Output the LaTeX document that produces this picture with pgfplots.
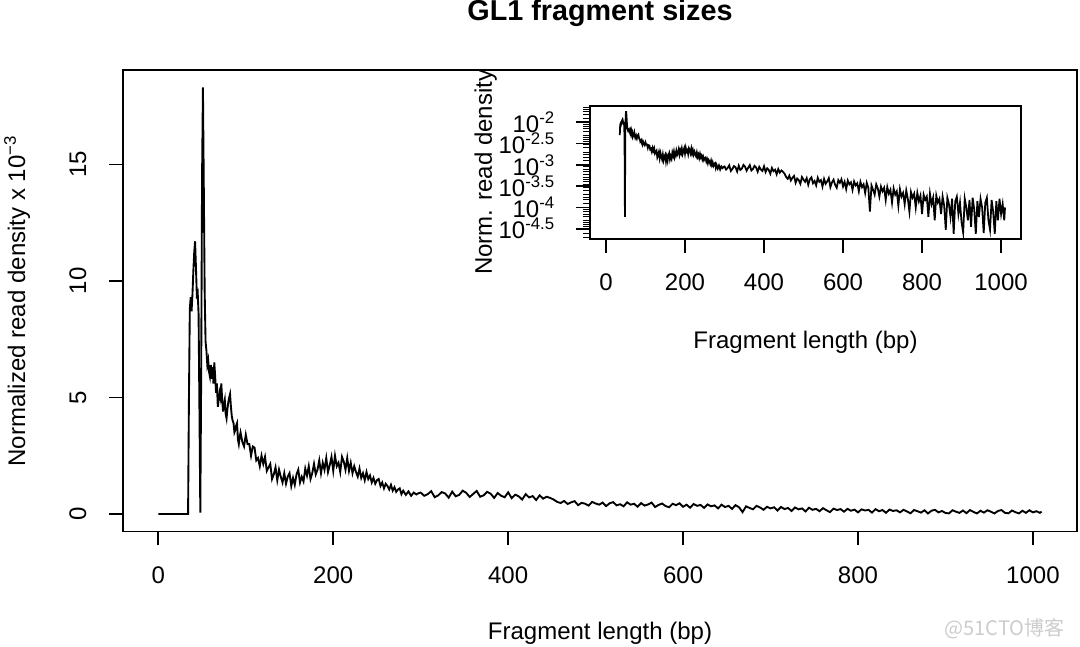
\documentclass[border=0pt]{standalone}
\usepackage{fontspec}
\setmainfont{Liberation Sans}
\newfontfamily\cjk{Noto Sans CJK SC}
\usepackage{pgfplots}
\pgfplotsset{compat=1.18}
\usepackage{pgfplotstable}
\usetikzlibrary{calc}

% fragment length (bp) vs normalized read density (x 1e-3)
\pgfplotstableread[row sep=\\]{
x y\\
0 0\\ 34 0\\ 35 5.0\\ 36 8.8\\ 37 9.3\\ 38 8.7\\ 39 9.4\\ 40 10.4\\ 41 11.2\\ 42 11.7\\
43 10.6\\ 44 9.4\\ 45 9.5\\ 46 8.6\\ 47 4.5\\ 48 0.06\\ 49 6.0\\ 50 14.5\\ 51 18.3\\ 52 14.0\\
53 9.5\\ 54 7.4\\ 55 7.0\\ 56 6.4\\ 57 6.6\\ 58 6.1\\ 59 5.9\\ 60 6.4\\ 61 5.8\\ 62 6.3\\
63 5.6\\ 64 6.5\\ 65 5.9\\ 66 5.2\\ 67 5.6\\ 68 4.6\\ 69 4.9\\ 70 5.2\\ 71 5.0\\ 72 5.6\\
73 4.9\\ 74 4.4\\ 75 4.7\\ 76 4.9\\ 77 4.3\\ 78 4.1\\ 79 4.5\\ 80 4.8\\ 81 5.0\\ 82 5.15\\
83 4.6\\ 84 4.2\\ 85 4.0\\ 86 3.9\\ 87 3.5\\ 88 3.6\\ 89 3.8\\ 90 3.9\\ 91 3.2\\ 92 3.0\\
93 3.3\\ 94 3.5\\ 95 3.3\\ 96 3.1\\ 98 2.9\\ 100 3.4\\ 102 3.0\\ 104 3.0\\ 106 2.5\\ 108 2.9\\
110 2.85\\ 112 2.3\\ 114 2.4\\ 116 2.05\\ 118 2.5\\ 120 2.15\\ 122 2.45\\ 124 1.85\\ 126 2.0\\ 128 2.15\\
130 1.5\\ 132 1.7\\ 134 2.0\\ 136 1.45\\ 138 1.9\\ 140 1.6\\ 142 1.35\\ 144 1.75\\ 146 1.3\\ 148 1.6\\
150 1.75\\ 152 1.2\\ 154 1.55\\ 156 1.25\\ 158 1.7\\ 160 1.9\\ 162 1.35\\ 164 1.6\\ 166 1.4\\ 168 1.95\\
170 1.65\\ 172 2.05\\ 174 1.5\\ 176 1.75\\ 178 2.15\\ 180 1.7\\ 182 1.9\\ 184 2.3\\ 186 1.75\\ 188 2.2\\
190 1.9\\ 192 2.4\\ 194 1.8\\ 196 2.1\\ 198 2.45\\ 200 1.85\\ 202 2.5\\ 204 2.05\\ 206 2.2\\ 208 1.8\\
210 2.45\\ 212 2.25\\ 214 1.9\\ 216 2.4\\ 218 1.85\\ 220 2.2\\ 222 1.75\\ 224 2.05\\ 226 1.8\\ 228 1.6\\
230 1.95\\ 232 1.55\\ 234 1.75\\ 236 1.45\\ 238 1.8\\ 240 1.5\\ 242 1.65\\ 244 1.35\\ 246 1.55\\ 248 1.3\\
250 1.45\\ 252 1.5\\ 254 1.2\\ 256 1.35\\ 258 1.1\\ 260 1.3\\ 262 1.2\\ 264 1.05\\ 266 1.25\\ 268 1.0\\
270 1.15\\ 272 0.95\\ 274 1.05\\ 276 1.1\\ 278 0.85\\ 280 1.0\\ 283 0.82\\ 286 0.97\\ 289 0.78\\ 292 0.92\\
295 0.84\\ 298 0.9\\ 300 0.92\\ 304 0.78\\ 308 0.85\\ 312 0.98\\ 316 0.72\\ 320 0.80\\ 324 0.94\\ 328 0.88\\
332 0.70\\ 336 0.96\\ 340 0.76\\ 344 0.82\\ 348 1.00\\ 352 0.91\\ 356 0.73\\ 360 0.86\\ 364 0.99\\ 368 0.74\\
372 0.80\\ 376 0.95\\ 380 0.87\\ 384 0.69\\ 388 0.90\\ 392 0.78\\ 396 0.72\\ 400 0.93\\ 404 0.68\\ 408 0.83\\
412 0.76\\ 416 0.62\\ 420 0.85\\ 424 0.71\\ 428 0.77\\ 432 0.60\\ 436 0.80\\ 440 0.66\\ 444 0.74\\ 448 0.69\\
452 0.62\\ 456 0.52\\ 460 0.47\\ 464 0.56\\ 468 0.43\\ 472 0.50\\ 476 0.55\\ 480 0.38\\ 484 0.48\\ 488 0.44\\
492 0.36\\ 496 0.52\\ 500 0.45\\ 504 0.40\\ 508 0.49\\ 512 0.34\\ 516 0.46\\ 520 0.51\\ 524 0.37\\ 528 0.42\\
532 0.33\\ 536 0.50\\ 540 0.40\\ 544 0.44\\ 548 0.31\\ 552 0.47\\ 556 0.36\\ 560 0.41\\ 564 0.49\\ 568 0.30\\
572 0.39\\ 576 0.45\\ 580 0.34\\ 584 0.29\\ 588 0.44\\ 592 0.38\\ 596 0.46\\ 600 0.31\\ 604 0.40\\ 608 0.27\\
612 0.43\\ 616 0.35\\ 620 0.39\\ 624 0.26\\ 628 0.41\\ 632 0.33\\ 636 0.37\\ 640 0.24\\ 644 0.40\\ 648 0.30\\
652 0.35\\ 656 0.22\\ 660 0.38\\ 664 0.29\\ 668 0.08\\ 672 0.33\\ 676 0.26\\ 680 0.20\\ 684 0.35\\ 688 0.28\\
692 0.18\\ 696 0.31\\ 700 0.24\\ 704 0.29\\ 708 0.15\\ 712 0.30\\ 716 0.21\\ 720 0.26\\ 724 0.13\\ 728 0.28\\
732 0.20\\ 736 0.24\\ 740 0.11\\ 744 0.27\\ 748 0.18\\ 752 0.22\\ 756 0.12\\ 760 0.25\\ 764 0.16\\ 768 0.08\\
772 0.23\\ 776 0.17\\ 780 0.21\\ 784 0.10\\ 788 0.22\\ 792 0.14\\ 796 0.19\\ 800 0.07\\ 804 0.20\\ 808 0.15\\
812 0.18\\ 816 0.06\\ 820 0.21\\ 824 0.12\\ 828 0.17\\ 832 0.05\\ 836 0.19\\ 840 0.13\\ 844 0.16\\ 848 0.07\\
852 0.18\\ 856 0.11\\ 860 0.03\\ 864 0.17\\ 868 0.12\\ 872 0.06\\ 876 0.16\\ 880 0.024\\ 884 0.14\\ 888 0.18\\
892 0.07\\ 896 0.13\\ 900 0.045\\ 904 0.026\\ 908 0.16\\ 912 0.10\\ 916 0.05\\ 920 0.15\\ 924 0.035\\ 928 0.17\\
932 0.09\\ 936 0.024\\ 940 0.14\\ 944 0.06\\ 948 0.16\\ 952 0.10\\ 956 0.025\\ 960 0.13\\ 964 0.17\\ 968 0.05\\
972 0.03\\ 976 0.15\\ 980 0.08\\ 984 0.024\\ 988 0.14\\ 992 0.05\\ 996 0.16\\ 1000 0.07\\ 1004 0.12\\ 1008 0.05\\
1010 0.10\\
}\gldata

\pgfplotsset{
  rbox/.style={
    scale only axis,
    axis line style={line width=0.7pt},
    major tick style={line width=0.7pt, black},
    minor tick style={line width=0.4pt, black},
    tick align=outside,
    tick pos=left,
    major tick length=5.6pt,
    minor tick length=2.8pt,
    xmin=-40.4, xmax=1050.4,
    xtick={0,200,400,600,800,1000},
    /pgf/number format/assume math mode=true,
    /pgf/number format/1000 sep={},
    ticklabel style={font=\fontsize{9.6}{11}\selectfont, inner sep=0pt},
    label style={font=\fontsize{9.6}{11}\selectfont, inner sep=0pt},
    xticklabel style={anchor=base, yshift=-15.2pt},
    ylabel style={at={(axis description cs:0,0.5)}, anchor=base, yshift=39.2pt},
    xlabel style={at={(axis description cs:0.5,0)}, anchor=base},
  },
}

\begin{document}
\begin{tikzpicture}
\path[use as bounding box] (0,0) rectangle (432pt,258.8pt);

% main panel
\begin{axis}[rbox,
  at={(49.2pt,46.2pt)}, anchor=south west,
  width=381.6pt, height=184.6pt,
  ymin=-0.75, ymax=19.05,
  ytick={0,5,10,15},
  yticklabel style={rotate=90, anchor=base, yshift=9.2pt},
  xlabel={Fragment length (bp)},
  xlabel style={yshift=-43.2pt},
  ylabel={Normalized read density x 10\textsuperscript{−3}},
  title={GL1 fragment sizes},
  title style={at={(axis description cs:0.5,1)}, anchor=base, yshift=13.6pt,
    inner sep=0pt, font=\bfseries\fontsize{11.5}{13}\selectfont},
]
\addplot[black, line width=0.75pt] table {\gldata};
\end{axis}

% inset, log scale
\begin{axis}[rbox,
  at={(236pt,163.2pt)}, anchor=south west,
  width=172.4pt, height=53.3pt,
  ymode=log,
  ymin=0.0182, ymax=24.5,
  ytick={0.0316228,0.1,0.316228,1,3.16228,10},
  yticklabels={10\textsuperscript{-4.5},10\textsuperscript{-4},10\textsuperscript{-3.5},
    10\textsuperscript{-3},10\textsuperscript{-2.5},10\textsuperscript{-2}},
  minor ytick={0.02,0.025,0.03,0.035,0.04,0.045,0.05,0.06,0.07,0.08,0.09,
    0.125,0.15,0.175,0.2,0.25,0.3,0.35,0.4,0.45,0.5,0.6,0.7,0.8,0.9,
    1.25,1.5,1.75,2,2.5,3,3.5,4,4.5,5,6,7,8,9,12.5,15,17.5,20,22.5},
  yticklabel style={anchor=east, xshift=-8pt},
  xlabel={Fragment length (bp)},
  xlabel style={yshift=-44pt},
  ylabel={Norm. read density},
]
\addplot[black, line width=0.7pt, unbounded coords=discard, skip coords between index={0}{2}] table {\gldata};
\end{axis}

\node[anchor=base east, text=black!20, font=\cjk\fontsize{8}{9}\selectfont, inner sep=0pt] at (426pt,4.6pt) {@51CTO博客};
\end{tikzpicture}
\end{document}
